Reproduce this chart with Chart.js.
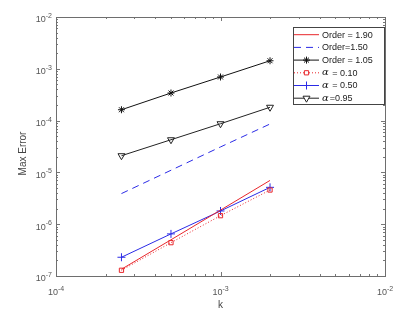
<!DOCTYPE html>
<html>
<head>
<meta charset="utf-8">
<script src="https://cdn.jsdelivr.net/npm/chart.js@4.4.0/dist/chart.umd.min.js"></script>
<style>
html,body{margin:0;padding:0;background:#fff;}
#wrap{width:415px;height:316px;}
</style>
</head>
<body>
<div id="wrap"><canvas id="errChart" width="415" height="316"></canvas></div>
<script>
// step sizes k
const kValues = [2.5e-4, 5e-4, 1e-3, 2e-3];

// reference order lines
const order190 = [1.35e-7, 5.0e-7, 1.87e-6, 7.0e-6];
const order150 = [3.9e-6, 1.1e-5, 3.1e-5, 8.6e-5];
const order105 = [1.62e-4, 3.41e-4, 6.95e-4, 1.43e-3];

// max error for each alpha
const alpha010 = [1.29e-7, 4.4e-7, 1.46e-6, 4.57e-6];
const alpha050 = [2.3e-7, 6.5e-7, 1.8e-6, 5.15e-6];
const alpha095 = [2.1e-5, 4.27e-5, 8.7e-5, 1.81e-4];

// decades shown on the axes
const xTickExps = [-4, -3, -2];
const yTickExps = [-7, -6, -5, -4, -3, -2];

const seriesLabels = ["Order = 1.90", "Order=1.50", "Order = 1.05", "α = 0.10", "α = 0.50", "α=0.95"];

const SANS = '"Liberation Sans", Arial, sans-serif';

function pts(vals){
    return kValues.map((k,i)=>({x:k, y:vals[i]}));
}

function drawPow(ctx, x, y, exp, align){
    // "10" with raised exponent
    const base = "10", sup = String(exp);
    ctx.font = "9px " + SANS;
    const wb = ctx.measureText(base).width;
    ctx.font = "7px " + SANS;
    const ws = ctx.measureText(sup).width;
    let start = align === "right" ? x - wb - ws : x - (wb + ws)/2;
    ctx.textAlign = "left";
    ctx.textBaseline = "middle";
    ctx.font = "9px " + SANS;
    ctx.fillText(base, start, y + 2);
    ctx.font = "7px " + SANS;
    ctx.fillText(sup, start + wb, y - 2);
}

const matlabAxes = {
    id:"matlabAxes",
    afterDraw(chart){
        const ctx = chart.ctx;
        const a = chart.chartArea;
        const xs = chart.scales.x, ys = chart.scales.y;
        ctx.save();

        // ticks inside the box
        ctx.strokeStyle = "#777";
        ctx.lineWidth = 1;
        ctx.beginPath();
        for(let e = xTickExps[0]; e < xTickExps[xTickExps.length-1]; e++){
            for(let m = 1; m <= 9; m++){
                const px = Math.round(xs.getPixelForValue(m*Math.pow(10,e))) + 0.5;
                const len = m === 1 ? 4 : 2;
                ctx.moveTo(px, a.bottom); ctx.lineTo(px, a.bottom - len);
                ctx.moveTo(px, a.top); ctx.lineTo(px, a.top + len);
            }
        }
        for(let e = yTickExps[0]; e < yTickExps[yTickExps.length-1]; e++){
            for(let m = 1; m <= 9; m++){
                const py = Math.round(ys.getPixelForValue(m*Math.pow(10,e))) + 0.5;
                const len = m === 1 ? 4 : 2;
                ctx.moveTo(a.left, py); ctx.lineTo(a.left + len, py);
                ctx.moveTo(a.right, py); ctx.lineTo(a.right - len, py);
            }
        }
        ctx.stroke();

        // box
        ctx.strokeStyle = "#6e6e6e";
        ctx.strokeRect(Math.round(a.left)+0.5, Math.round(a.top)+0.5, Math.round(a.right-a.left), Math.round(a.bottom-a.top));

        // tick labels
        ctx.fillStyle = "#555";
        xTickExps.forEach(e=>{
            drawPow(ctx, xs.getPixelForValue(Math.pow(10,e)), a.bottom + 15, e, "center");
        });
        yTickExps.forEach(e=>{
            drawPow(ctx, a.left - 4, ys.getPixelForValue(Math.pow(10,e)) + 1, e, "right");
        });

        // axis titles
        ctx.fillStyle = "#444";
        ctx.font = "10px " + SANS;
        ctx.textAlign = "center";
        ctx.textBaseline = "middle";
        ctx.fillText("k", (a.left + a.right)/2, a.bottom + 29);
        ctx.save();
        ctx.translate(23, (a.top + a.bottom)/2 + 7);
        ctx.rotate(-Math.PI/2);
        ctx.fillText("Max Error", 0, 0);
        ctx.restore();

        // legend
        const lx = 293, ly = 27, lw = 91, lh = 77, rowH = 12.7;
        ctx.fillStyle = "#fff";
        ctx.fillRect(lx, ly, lw, lh);
        ctx.strokeStyle = "#444";
        ctx.strokeRect(lx+0.5, ly+0.5, lw, lh);
        chart.data.datasets.forEach((ds,i)=>{
            const cy = ly + 7.7 + i*rowH;
            ctx.strokeStyle = ds.borderColor;
            ctx.lineWidth = 1;
            ctx.setLineDash(ds.borderDash || []);
            ctx.beginPath();
            ctx.moveTo(lx + 1, cy); ctx.lineTo(lx + 26, cy);
            ctx.stroke();
            ctx.setLineDash([]);
            if(ds.pointRadius > 0){
                ctx.fillStyle = "#fff";
                Chart.helpers.drawPoint(ctx, {
                    pointStyle: ds.pointStyle,
                    radius: ds.pointRadius,
                    rotation: ds.pointRotation || 0,
                    borderWidth: 1
                }, lx + 13.5, cy);
            }
            // label, alpha in italic serif
            ctx.fillStyle = "#222";
            ctx.textAlign = "left";
            ctx.textBaseline = "middle";
            let tx = lx + 29;
            let txt = ds.label;
            if(txt.startsWith("α")){
                ctx.font = "italic 10px \"DejaVu Serif\", serif";
                ctx.fillText("α", tx, cy);
                tx += ctx.measureText("α").width + 1;
                txt = txt.slice(1);
            }
            ctx.font = "9px " + SANS;
            ctx.fillText(txt, tx, cy + 0.5);
        });

        ctx.restore();
    }
};

const datasets = [
    {label:seriesLabels[0], data:pts(order190), borderColor:"#e8262b", borderWidth:1, pointRadius:0},
    {label:seriesLabels[1], data:pts(order150), borderColor:"#2b2be6", borderWidth:1, borderDash:[7,5], pointRadius:0},
    {label:seriesLabels[2], data:pts(order105), borderColor:"#111", borderWidth:1, pointStyle:"star", pointRadius:3.5},
    {label:seriesLabels[3], data:pts(alpha010), borderColor:"#e8262b", borderWidth:1, borderDash:[1,2], pointStyle:"rect", pointRadius:3},
    {label:seriesLabels[4], data:pts(alpha050), borderColor:"#2b2be6", borderWidth:1, pointStyle:"cross", pointRadius:4},
    {label:seriesLabels[5], data:pts(alpha095), borderColor:"#222", borderWidth:1, pointStyle:"triangle", pointRotation:180, pointRadius:4}
];
datasets.forEach(ds=>{
    ds.backgroundColor = "rgba(0,0,0,0)";
    ds.pointBorderColor = ds.borderColor;
    ds.pointBackgroundColor = "rgba(0,0,0,0)";
    ds.pointBorderWidth = 1;
    ds.pointHoverRadius = ds.pointRadius;
    ds.tension = 0;
});

new Chart(document.getElementById("errChart").getContext("2d"),{
    type:"line",
    data:{datasets:datasets},
    options:{
        responsive:false,
        animation:false,
        devicePixelRatio:1,
        layout:{padding:{top:17, right:30, left:0, bottom:0}},
        plugins:{legend:{display:false}, tooltip:{enabled:false}},
        scales:{
            x:{
                type:"logarithmic",
                min:Math.pow(10, xTickExps[0]),
                max:Math.pow(10, xTickExps[xTickExps.length-1]),
                ticks:{display:false},
                grid:{display:false, drawTicks:false},
                border:{display:false},
                afterFit(scale){ scale.height = 40; }
            },
            y:{
                type:"logarithmic",
                min:Math.pow(10, yTickExps[0]),
                max:Math.pow(10, yTickExps[yTickExps.length-1]),
                ticks:{display:false},
                grid:{display:false, drawTicks:false},
                border:{display:false},
                afterFit(scale){ scale.width = 56; }
            }
        }
    },
    plugins:[matlabAxes]
});
</script>
</body>
</html>
